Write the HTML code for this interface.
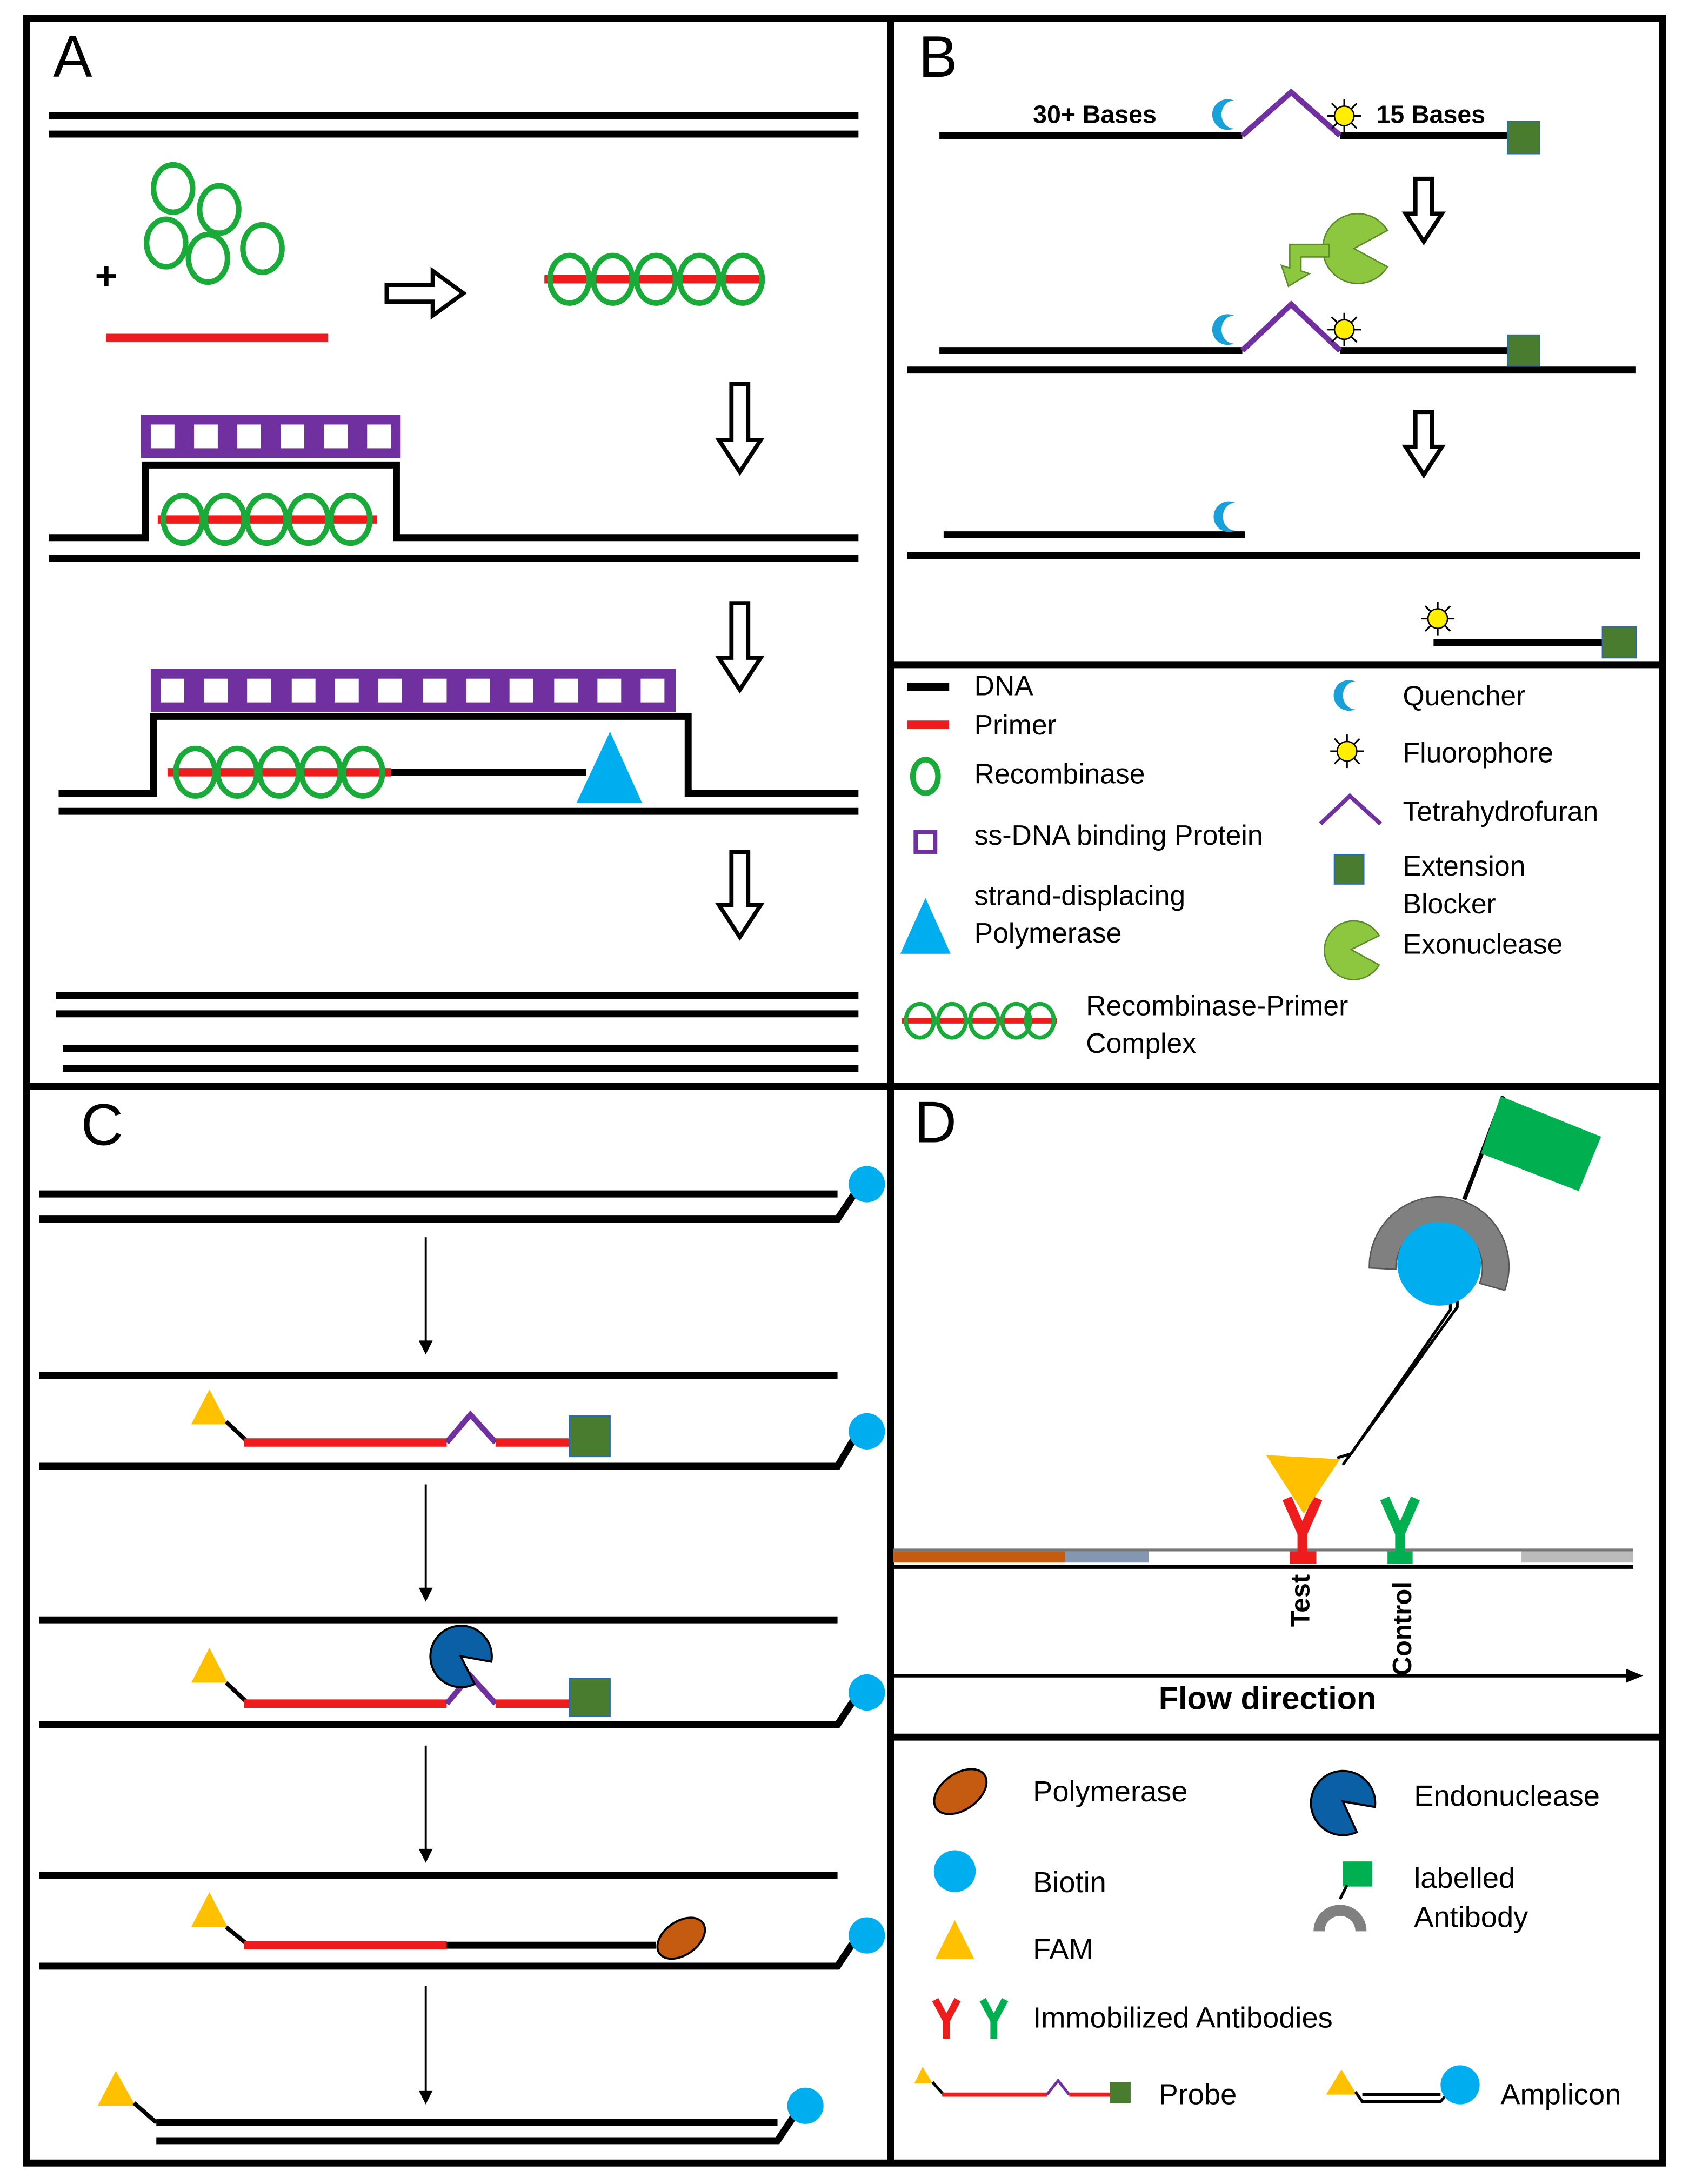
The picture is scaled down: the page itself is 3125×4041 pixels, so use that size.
<!DOCTYPE html>
<html><head><meta charset="utf-8"><style>html,body{margin:0;padding:0;background:#fff}svg{display:block}text{font-family:"Liberation Sans",Arial,sans-serif}</style></head><body>
<svg width="3125" height="4041" viewBox="0 0 1210 1564" preserveAspectRatio="none" xmlns="http://www.w3.org/2000/svg">
<defs>
<g id="crescent"><path d="M4,-10 A11,11 0 1,0 4,10 A8,9 0 1,1 4,-10 Z" fill="#1aa0d8"/></g>
<g id="sun"><g stroke="#000" stroke-width="1.2"><line x1="-12" y1="0" x2="12" y2="0"/><line x1="0" y1="-12" x2="0" y2="12"/><line x1="-9" y1="-9" x2="9" y2="9"/><line x1="-9" y1="9" x2="9" y2="-9"/></g><circle r="7" fill="#ffee00" stroke="#000" stroke-width="1"/></g>
</defs>
<rect x="0" y="0" width="1210" height="1564" fill="#fff"/>
<g stroke="#000" stroke-width="5" fill="none">
<rect x="19" y="13" width="1172" height="1536"/>
<line x1="638" y1="13" x2="638" y2="1549"/>
<line x1="19" y1="778" x2="1191" y2="778"/>
<line x1="638" y1="476" x2="1191" y2="476"/>
<line x1="638" y1="1244" x2="1191" y2="1244"/>
</g>
<!-- Panel A -->
<text x="38" y="55" font-size="42">A</text>
<g stroke="#000" stroke-width="5"><line x1="35" y1="83" x2="615" y2="83"/><line x1="35" y1="96" x2="615" y2="96"/></g>
<g fill="none" stroke="#1aaa3a" stroke-width="4"><ellipse cx="124" cy="135" rx="14" ry="17"/><ellipse cx="157" cy="150" rx="14" ry="17"/><ellipse cx="119" cy="174" rx="14" ry="17"/><ellipse cx="149" cy="185" rx="14" ry="17"/><ellipse cx="188" cy="178" rx="14" ry="17"/></g>
<text x="68" y="207" font-size="28" font-weight="bold">+</text>
<line x1="76" y1="242" x2="235" y2="242" stroke="#ee1c1c" stroke-width="6"/>
<polygon points="277,204 310,204 310,194 332,210 310,226 310,216 277,216" fill="#fff" stroke="#000" stroke-width="3"/>
<line x1="390" y1="200" x2="548" y2="200" stroke="#ee1c1c" stroke-width="6"/>
<g fill="none" stroke="#1aaa3a" stroke-width="4"><ellipse cx="408" cy="200" rx="14" ry="17"/><ellipse cx="439" cy="200" rx="14" ry="17"/><ellipse cx="470" cy="200" rx="14" ry="17"/><ellipse cx="501" cy="200" rx="14" ry="17"/><ellipse cx="532" cy="200" rx="14" ry="17"/></g>
<g transform="translate(530,338)"><polygon points="-6,-63 6,-63 6,-23 15,-23 0,0 -15,-23 -6,-23" fill="#fff" stroke="#000" stroke-width="3"/></g>
<g transform="translate(530,494)"><polygon points="-6,-62 6,-62 6,-23 15,-23 0,0 -15,-23 -6,-23" fill="#fff" stroke="#000" stroke-width="3"/></g>
<g transform="translate(530,671)"><polygon points="-6,-61 6,-61 6,-23 15,-23 0,0 -15,-23 -6,-23" fill="#fff" stroke="#000" stroke-width="3"/></g>
<rect x="101" y="297" width="186" height="31" fill="#7030a0"/>
<g fill="#fff"><rect x="108" y="304" width="17" height="17"/><rect x="139" y="304" width="17" height="17"/><rect x="170" y="304" width="17" height="17"/><rect x="201" y="304" width="17" height="17"/><rect x="232" y="304" width="17" height="17"/><rect x="263" y="304" width="17" height="17"/></g>
<polyline points="35,385 104,385 104,333 284,333 284,385 615,385" fill="none" stroke="#000" stroke-width="5"/>
<line x1="35" y1="400" x2="615" y2="400" stroke="#000" stroke-width="5"/>
<line x1="113" y1="372" x2="270" y2="372" stroke="#ee1c1c" stroke-width="6"/>
<g fill="none" stroke="#1aaa3a" stroke-width="4"><ellipse cx="131" cy="372" rx="14" ry="17"/><ellipse cx="161" cy="372" rx="14" ry="17"/><ellipse cx="191" cy="372" rx="14" ry="17"/><ellipse cx="221" cy="372" rx="14" ry="17"/><ellipse cx="251" cy="372" rx="14" ry="17"/></g>
<rect x="108" y="479" width="376" height="31" fill="#7030a0"/>
<g fill="#fff">
<rect x="115" y="486" width="17" height="17"/><rect x="146" y="486" width="17" height="17"/><rect x="177" y="486" width="17" height="17"/><rect x="209" y="486" width="17" height="17"/><rect x="240" y="486" width="17" height="17"/><rect x="271" y="486" width="17" height="17"/><rect x="303" y="486" width="17" height="17"/><rect x="334" y="486" width="17" height="17"/><rect x="365" y="486" width="17" height="17"/><rect x="397" y="486" width="17" height="17"/><rect x="428" y="486" width="17" height="17"/><rect x="459" y="486" width="17" height="17"/></g>
<polyline points="42,568 110,568 110,513 493,513 493,568 615,568" fill="none" stroke="#000" stroke-width="5"/>
<line x1="42" y1="581" x2="615" y2="581" stroke="#000" stroke-width="5"/>
<line x1="280" y1="553" x2="420" y2="553" stroke="#000" stroke-width="5"/>
<line x1="120" y1="553" x2="280" y2="553" stroke="#ee1c1c" stroke-width="6"/>
<g fill="none" stroke="#1aaa3a" stroke-width="4"><ellipse cx="140" cy="553" rx="14" ry="17"/><ellipse cx="170" cy="553" rx="14" ry="17"/><ellipse cx="200" cy="553" rx="14" ry="17"/><ellipse cx="230" cy="553" rx="14" ry="17"/><ellipse cx="260" cy="553" rx="14" ry="17"/></g>
<polygon points="413,575 437,524 460,575" fill="#00aeef"/>
<g stroke="#000" stroke-width="5"><line x1="40" y1="713" x2="615" y2="713"/><line x1="40" y1="726" x2="615" y2="726"/><line x1="45" y1="751" x2="615" y2="751"/><line x1="45" y1="765" x2="615" y2="765"/></g>
<!-- Panel B -->
<text x="658" y="55" font-size="42">B</text>
<g stroke="#000" stroke-width="5"><line x1="673" y1="97" x2="890" y2="97"/><line x1="960" y1="97" x2="1080" y2="97"/></g>
<text x="740" y="88" font-size="18" font-weight="bold">30+ Bases</text>
<text x="986" y="88" font-size="18" font-weight="bold">15 Bases</text>
<use href="#crescent" x="880" y="82"/>
<polyline points="890,97 925,66 960,97" fill="none" stroke="#7030a0" stroke-width="4"/>
<use href="#sun" x="963" y="83"/>
<rect x="1080" y="87" width="23" height="23" fill="#4a7c2f" stroke="#2a6ab0" stroke-width="1"/>
<g transform="translate(1020,173)"><polygon points="-6,-45 6,-45 6,-20 13,-20 0,0 -13,-20 -6,-20" fill="#fff" stroke="#000" stroke-width="3"/></g>
<path d="M970,178 L994,165 A25,25 0 1,0 994,191 Z" fill="#8dc63f" stroke="#5a8a2a" stroke-width="1"/>
<polygon points="923,205 918,190 924,192 924,175 952,175 952,184 932,184 932,194 938,196" fill="#8dc63f" stroke="#5a8a2a" stroke-width="1"/>
<g stroke="#000" stroke-width="5"><line x1="673" y1="251" x2="890" y2="251"/><line x1="960" y1="251" x2="1080" y2="251"/><line x1="650" y1="265" x2="1172" y2="265"/></g>
<use href="#crescent" x="880" y="236"/>
<polyline points="890,251 925,218 960,251" fill="none" stroke="#7030a0" stroke-width="4"/>
<use href="#sun" x="963" y="236"/>
<rect x="1080" y="240" width="23" height="22" fill="#4a7c2f" stroke="#2a6ab0" stroke-width="1"/>
<g transform="translate(1020,340)"><polygon points="-6,-45 6,-45 6,-20 13,-20 0,0 -13,-20 -6,-20" fill="#fff" stroke="#000" stroke-width="3"/></g>
<g stroke="#000" stroke-width="5"><line x1="676" y1="383" x2="892" y2="383"/><line x1="650" y1="398" x2="1175" y2="398"/><line x1="1027" y1="460" x2="1148" y2="460"/></g>
<use href="#crescent" x="881" y="370"/>
<use href="#sun" x="1030" y="443"/>
<rect x="1148" y="449" width="24" height="22" fill="#4a7c2f" stroke="#2a6ab0" stroke-width="1"/>
<g font-size="20">
<line x1="650" y1="492" x2="680" y2="492" stroke="#000" stroke-width="6"/><text x="698" y="498">DNA</text>
<line x1="650" y1="519" x2="680" y2="519" stroke="#ee1c1c" stroke-width="6"/><text x="698" y="526">Primer</text>
<ellipse cx="663" cy="556" rx="9" ry="12" fill="none" stroke="#1aaa3a" stroke-width="4"/><text x="698" y="561">Recombinase</text>
<rect x="656" y="596" width="14" height="14" fill="none" stroke="#7030a0" stroke-width="3"/><text x="698" y="605">ss-DNA binding Protein</text>
<polygon points="645,683 663,643 681,683" fill="#00aeef"/><text x="698" y="648">strand-displacing</text><text x="698" y="675">Polymerase</text>
<line x1="646" y1="731" x2="757" y2="731" stroke="#ee1c1c" stroke-width="4"/>
<g fill="none" stroke="#1aaa3a" stroke-width="3"><ellipse cx="659" cy="731" rx="10" ry="12"/><ellipse cx="682" cy="731" rx="10" ry="12"/><ellipse cx="705" cy="731" rx="10" ry="12"/><ellipse cx="728" cy="731" rx="10" ry="12"/><ellipse cx="745" cy="731" rx="10" ry="12"/></g>
<text x="778" y="727">Recombinase-Primer</text><text x="778" y="754">Complex</text>
<use href="#crescent" x="967" y="498"/><text x="1005" y="505">Quencher</text>
<use href="#sun" x="965" y="538"/><text x="1005" y="546">Fluorophore</text>
<polyline points="946,590 967,570 989,590" fill="none" stroke="#7030a0" stroke-width="3"/><text x="1005" y="588">Tetrahydrofuran</text>
<rect x="956" y="612" width="21" height="21" fill="#4a7c2f" stroke="#2a6ab0" stroke-width="1"/><text x="1005" y="627">Extension</text><text x="1005" y="654">Blocker</text>
<path d="M968,680 L988,670 A21,21 0 1,0 988,691 Z" fill="#8dc63f" stroke="#5a8a2a" stroke-width="1"/><text x="1005" y="683">Exonuclease</text>
</g>
<!-- Panel C -->
<text x="58" y="820" font-size="42">C</text>
<g stroke="#000" stroke-width="5" fill="none">
<line x1="28" y1="855" x2="600" y2="855"/><polyline points="28,873 600,873 612,855"/>
<line x1="28" y1="985" x2="600" y2="985"/><polyline points="28,1050 600,1050 612,1030"/>
<line x1="28" y1="1160" x2="600" y2="1160"/><polyline points="28,1235 600,1235 612,1217"/>
<line x1="28" y1="1343" x2="600" y2="1343"/><polyline points="28,1408 600,1408 612,1390"/>
<line x1="112" y1="1520" x2="557" y2="1520"/><polyline points="112,1533 557,1533 569,1515"/>
</g>
<g fill="#00aeef"><circle cx="621" cy="848" r="13"/><circle cx="621" cy="1025" r="13"/><circle cx="621" cy="1212" r="13"/><circle cx="621" cy="1386" r="13"/><circle cx="577" cy="1508" r="13"/></g>
<g stroke="#000" stroke-width="1.5"><line x1="305" y1="886" x2="305" y2="966"/><line x1="305" y1="1063" x2="305" y2="1143"/><line x1="305" y1="1250" x2="305" y2="1330"/><line x1="305" y1="1422" x2="305" y2="1503"/></g>
<g fill="#000"><polygon points="300,960 310,960 305,970"/><polygon points="300,1137 310,1137 305,1147"/><polygon points="300,1324 310,1324 305,1334"/><polygon points="300,1497 310,1497 305,1507"/></g>
<g>
<polygon points="137,1020 150,995 163,1020" fill="#ffc000"/><polyline points="162,1018 178,1033" stroke="#000" stroke-width="3"/>
<line x1="175" y1="1033" x2="320" y2="1033" stroke="#ee1c1c" stroke-width="6"/><polyline points="320,1033 337,1013 355,1033" fill="none" stroke="#7030a0" stroke-width="4"/><line x1="355" y1="1033" x2="408" y2="1033" stroke="#ee1c1c" stroke-width="6"/>
<rect x="408" y="1014" width="29" height="29" fill="#4a7c2f" stroke="#2a6ab0" stroke-width="1"/>
</g>
<g>
<polygon points="137,1205 150,1180 163,1205" fill="#ffc000"/><polyline points="162,1205 178,1220" stroke="#000" stroke-width="3"/>
<line x1="175" y1="1220" x2="320" y2="1220" stroke="#ee1c1c" stroke-width="6"/><polyline points="320,1220 337,1200 355,1220" fill="none" stroke="#7030a0" stroke-width="4"/><line x1="355" y1="1220" x2="408" y2="1220" stroke="#ee1c1c" stroke-width="6"/>
<rect x="408" y="1202" width="29" height="27" fill="#4a7c2f" stroke="#2a6ab0" stroke-width="1"/>
<path d="M330,1186 L352,1190 A22,22 0 1,0 340,1206 Z" fill="#0b5fa5" stroke="#000" stroke-width="1.5"/>
</g>
<g>
<polygon points="137,1380 150,1355 163,1380" fill="#ffc000"/><polyline points="162,1380 178,1393" stroke="#000" stroke-width="3"/>
<line x1="175" y1="1393" x2="320" y2="1393" stroke="#ee1c1c" stroke-width="6"/><line x1="320" y1="1393" x2="470" y2="1393" stroke="#000" stroke-width="5"/>
<ellipse cx="488" cy="1388" rx="19" ry="12" transform="rotate(-35 488 1388)" fill="#c55a11" stroke="#000" stroke-width="1.5"/>
</g>
<polygon points="70,1508 83,1483 97,1508" fill="#ffc000"/><polyline points="96,1506 112,1520" stroke="#000" stroke-width="3"/>
<!-- Panel D -->
<text x="655" y="818" font-size="42">D</text>
<line x1="640" y1="1110" x2="1170" y2="1110" stroke="#777" stroke-width="2"/>
<rect x="640" y="1111" width="123" height="8" fill="#c55a11"/><rect x="763" y="1111" width="60" height="8" fill="#8497b0"/><rect x="1090" y="1111" width="80" height="8" fill="#bbb"/>
<line x1="640" y1="1122" x2="1170" y2="1122" stroke="#000" stroke-width="3"/>
<g stroke="#ee1c1c" stroke-width="7" fill="none"><polyline points="922,1073 933,1098 944,1073"/><line x1="933" y1="1096" x2="933" y2="1120"/></g>
<rect x="924" y="1111" width="19" height="9" fill="#ee1c1c"/>
<g stroke="#00b050" stroke-width="7" fill="none"><polyline points="992,1073 1003,1098 1014,1073"/><line x1="1003" y1="1096" x2="1003" y2="1120"/></g>
<rect x="994" y="1111" width="18" height="9" fill="#00b050"/>
<polygon points="907,1042 960,1045 934,1084" fill="#ffc000"/>
<g stroke="#000" stroke-width="2" fill="none"><polyline points="958,1044 968,1041 1039,938 1039,930"/><polyline points="962,1049 1044,936 1044,928"/></g>
<g transform="translate(-6,0)">
<path d="M987,908 A50,50 0 1,1 1084,924 L1066,919 A31,31 0 1,0 1006,909 Z" fill="#808080" stroke="#555" stroke-width="1"/>
<circle cx="1037" cy="905" r="30" fill="#00aeef"/>
<line x1="1055" y1="859" x2="1083" y2="785" stroke="#000" stroke-width="3"/>
<polygon points="1081,785 1153,814 1137,853 1067,826" fill="#00b050"/>
</g>
<text transform="translate(938,1165) rotate(-90)" font-size="19" font-weight="bold">Test</text>
<text transform="translate(1011,1200) rotate(-90)" font-size="19" font-weight="bold">Control</text>
<line x1="640" y1="1200" x2="1168" y2="1200" stroke="#000" stroke-width="2.5"/>
<polygon points="1165,1195 1177,1200 1165,1205" fill="#000"/>
<text x="908" y="1224" font-size="23" font-weight="bold" text-anchor="middle">Flow direction</text>
<g font-size="21">
<ellipse cx="688" cy="1283" rx="21" ry="13" transform="rotate(-35 688 1283)" fill="#c55a11" stroke="#000" stroke-width="1.5"/><text x="740" y="1290">Polymerase</text>
<path d="M962,1290 L985,1294 A23,23 0 1,0 972,1312 Z" fill="#0b5fa5" stroke="#000" stroke-width="1.5"/><text x="1013" y="1293">Endonuclease</text>
<circle cx="684" cy="1340" r="15" fill="#00aeef"/><text x="740" y="1355">Biotin</text>
<rect x="962" y="1333" width="21" height="18" fill="#00b050"/><line x1="960" y1="1360" x2="965" y2="1350" stroke="#000" stroke-width="2"/>
<path d="M941,1383 A19,19 0 0,1 979,1383 L971,1383 A11,11 0 0,0 949,1383 Z" fill="#808080"/>
<text x="1013" y="1352">labelled</text><text x="1013" y="1380">Antibody</text>
<polygon points="670,1403 684,1375 698,1403" fill="#ffc000"/><text x="740" y="1403">FAM</text>
<g stroke="#ee1c1c" stroke-width="5" fill="none"><polyline points="670,1432 678,1447 686,1432"/><line x1="678" y1="1446" x2="678" y2="1460"/></g>
<g stroke="#00b050" stroke-width="5" fill="none"><polyline points="704,1432 712,1447 720,1432"/><line x1="712" y1="1446" x2="712" y2="1460"/></g>
<text x="740" y="1452">Immobilized Antibodies</text>
<polygon points="655,1492 661,1480 668,1492" fill="#ffc000"/><line x1="668" y1="1491" x2="676" y2="1500" stroke="#000" stroke-width="2"/>
<line x1="675" y1="1500" x2="750" y2="1500" stroke="#ee1c1c" stroke-width="3"/><polyline points="750,1500 758,1490 766,1500" fill="none" stroke="#7030a0" stroke-width="2"/><line x1="766" y1="1500" x2="795" y2="1500" stroke="#ee1c1c" stroke-width="3"/>
<rect x="795" y="1491" width="15" height="15" fill="#4a7c2f"/><text x="830" y="1507">Probe</text>
<polygon points="950,1500 961,1482 972,1500" fill="#ffc000"/><polyline points="971,1498 976,1505 1032,1505 1038,1498" fill="none" stroke="#000" stroke-width="2"/><line x1="976" y1="1500" x2="1032" y2="1500" stroke="#000" stroke-width="2"/>
<circle cx="1046" cy="1493" r="14" fill="#00aeef"/><text x="1075" y="1507">Amplicon</text>
</g>
</svg>
</body></html>
